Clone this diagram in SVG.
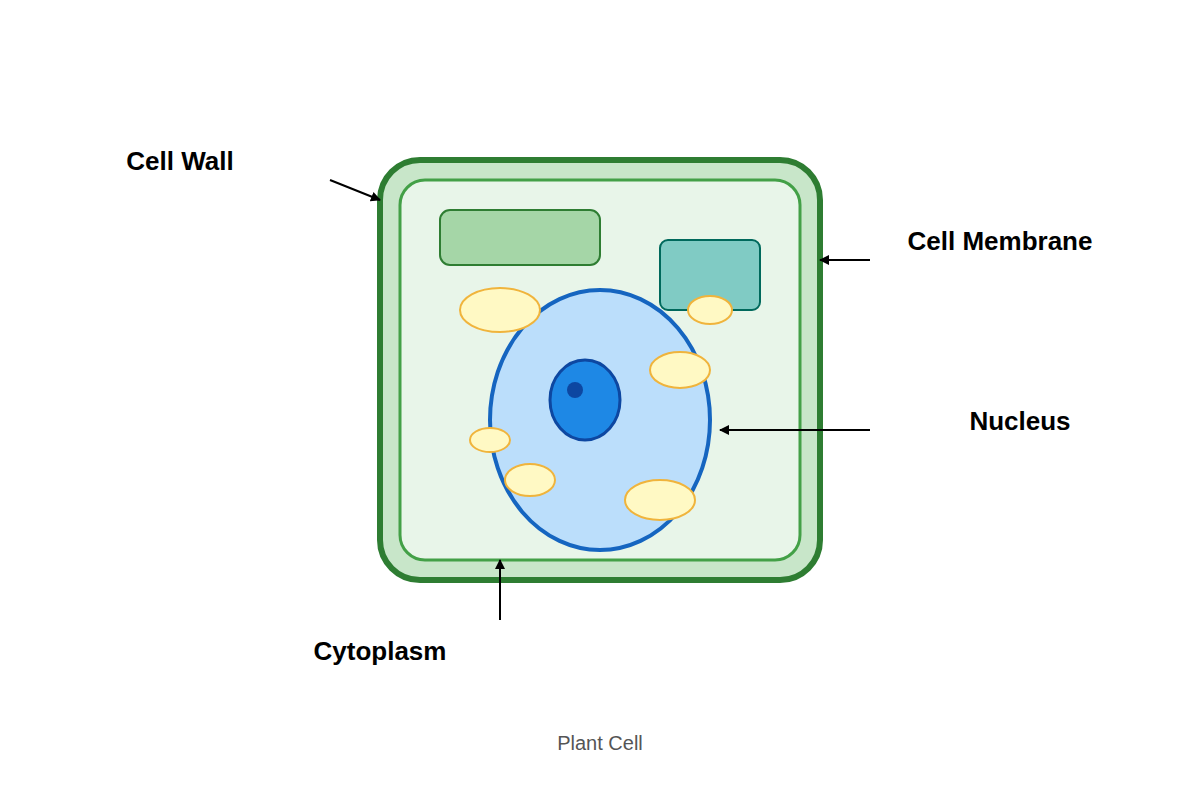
<svg xmlns="http://www.w3.org/2000/svg" width="1200" height="800" viewBox="0 0 1200 800">
<defs>
<marker id="ah" markerWidth="10" markerHeight="10" refX="9" refY="5" orient="auto" markerUnits="userSpaceOnUse" viewBox="0 0 10 10"><path d="M0,0 L10,5 L0,10 z" fill="#000"/></marker>
<style>
.lbl{font-family:"Liberation Sans",Arial,sans-serif;font-size:26px;font-weight:bold;fill:#000;text-anchor:middle}
.vac{fill:#fff9c4;stroke:#f0b43c;stroke-width:2}
.c{stroke:#000;stroke-width:2;fill:none;marker-end:url(#ah)}
</style>
</defs>
<rect width="1200" height="800" fill="#fff"/>
<g id="cell-wall"><rect x="380" y="160" width="440" height="420" rx="40" fill="#c8e6c9" stroke="#2e7d32" stroke-width="6"/></g>
<g id="cell-membrane"><rect x="400" y="180" width="400" height="380" rx="25" fill="#e8f5e9" stroke="#43a047" stroke-width="3"/></g>
<g id="chloroplast"><rect x="440" y="210" width="160" height="55" rx="10" fill="#a5d6a7" stroke="#2e7d32" stroke-width="2"/></g>
<g id="organelle"><rect x="660" y="240" width="100" height="70" rx="8" fill="#80cbc4" stroke="#00695c" stroke-width="2"/></g>
<g id="nucleus"><ellipse cx="600" cy="420" rx="110" ry="130" fill="#bbdefb" stroke="#1565c0" stroke-width="4"/>
<ellipse cx="585" cy="400" rx="35" ry="40" fill="#1e88e5" stroke="#0d47a1" stroke-width="3"/>
<circle cx="575" cy="390" r="8" fill="#0d47a1"/></g>
<g id="vacuoles">
<ellipse class="vac" cx="500" cy="310" rx="40" ry="22"/>
<ellipse class="vac" cx="710" cy="310" rx="22" ry="14"/>
<ellipse class="vac" cx="680" cy="370" rx="30" ry="18"/>
<ellipse class="vac" cx="490" cy="440" rx="20" ry="12"/>
<ellipse class="vac" cx="530" cy="480" rx="25" ry="16"/>
<ellipse class="vac" cx="660" cy="500" rx="35" ry="20"/>
</g>
<g id="connectors">
<line class="c" x1="330" y1="180" x2="380" y2="200"/>
<line class="c" x1="870" y1="260" x2="820" y2="260"/>
<line class="c" x1="870" y1="430" x2="720" y2="430"/>
<line class="c" x1="500" y1="620" x2="500" y2="560"/>
</g>
<g id="labels">
<text class="lbl" x="180" y="170">Cell Wall</text>
<text class="lbl" x="1000" y="250">Cell Membrane</text>
<text class="lbl" x="1020" y="430">Nucleus</text>
<text class="lbl" x="380" y="660">Cytoplasm</text>
<text x="600" y="750" font-family="Liberation Sans,Arial,sans-serif" font-size="20" fill="#555" text-anchor="middle">Plant Cell</text>
</g>
</svg>
